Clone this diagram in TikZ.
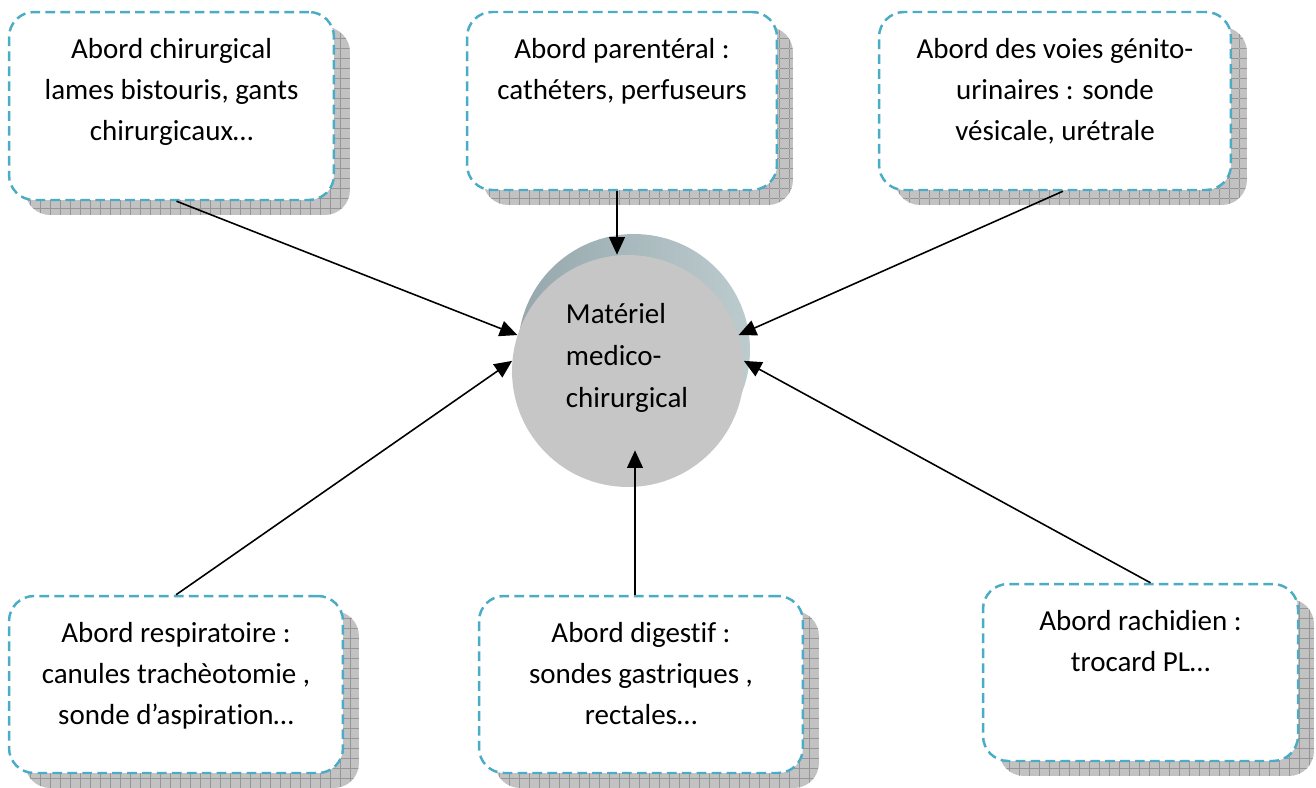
\documentclass[tikz,border=0pt]{standalone}
\usepackage{fontspec}
\setmainfont[Ligatures=NoCommon]{Carlito}
\usetikzlibrary{arrows.meta,positioning,calc,shadows,patterns}

\definecolor{dashblue}{RGB}{75,172,198}
\definecolor{shadowgray}{RGB}{194,194,194}
\definecolor{gridgray}{RGB}{150,150,150}
\definecolor{facegray}{RGB}{198,198,198}
\definecolor{cylL}{RGB}{150,168,173}
\definecolor{cylR}{RGB}{188,203,206}

\pgfdeclarepatternformonly{smallgrid}{\pgfqpoint{-0.5pt}{-0.5pt}}{\pgfqpoint{6.2pt}{6.2pt}}{\pgfqpoint{5.69pt}{5.69pt}}{%
  \pgfsetlinewidth{0.45pt}%
  \pgfpathmoveto{\pgfqpoint{0pt}{0pt}}\pgfpathlineto{\pgfqpoint{5.69pt}{0pt}}%
  \pgfpathmoveto{\pgfqpoint{0pt}{0pt}}\pgfpathlineto{\pgfqpoint{0pt}{5.69pt}}%
  \pgfusepath{stroke}}

% text set at the top of a box
\newcommand{\abtext}[3]{\parbox[c][#2][t]{#1}{\centering #3}}

\begin{document}
\begin{tikzpicture}[x=0.02cm,y=-0.02cm,
 arr/.style={-{Triangle[length=10pt,width=9pt]},line width=0.9pt},
 abord/.style={draw=dashblue,line width=1.4pt,dash pattern=on 5.5pt off 3pt,
   rounded corners=0.5cm,fill=white,inner sep=0pt,
   font=\fontsize{16.5}{23.5}\selectfont,
   drop shadow={shadow xshift=0.32cm,shadow yshift=-0.3cm,opacity=1,fill=shadowgray,
     postaction={pattern=smallgrid,pattern color=gridgray}}},
 disc/.style={circle,minimum size=4.64cm,inner sep=0pt,draw=none},
 mattxt/.style={align=left,inner sep=0pt,font=\fontsize{16.5}{24}\selectfont}]
\useasboundingbox (0,0) rectangle (1316,788);

% the centre
\node[disc,left color=cylL,right color=cylR] (matback) at (634,350) {};
\node[disc,fill=facegray] (mat) at (628,371) {};
\node[mattxt] (matlbl) at (627,358) {Matériel\\medico-\\chirurgical};

% the six boxes
\node[abord,minimum width=6.5cm,minimum height=3.76cm] (b1) at (171.5,106)
  {\abtext{6.3cm}{2.72cm}{Abord chirurgical\\lames bistouris, gants\\chirurgicaux…}};
\node[abord,minimum width=6.2cm,minimum height=3.56cm] (b2) at (622,101)
  {\abtext{6cm}{2.52cm}{Abord parentéral :\\cathéters, perfuseurs}};
\node[abord,minimum width=7.04cm,minimum height=3.56cm] (b3) at (1055,101)
  {\abtext{6.8cm}{2.52cm}{Abord des voies génito-\\urinaires : sonde\\vésicale, urétrale}};
\node[abord,minimum width=6.68cm,minimum height=3.54cm] (b4) at (176,684.5)
  {\abtext{6.5cm}{2.5cm}{Abord respiratoire :\\canules trachèotomie ,\\sonde d’aspiration…}};
\node[abord,minimum width=6.48cm,minimum height=3.54cm] (b5) at (641,684.5)
  {\abtext{6.3cm}{2.5cm}{Abord digestif :\\sondes gastriques ,\\rectales…}};
\node[abord,minimum width=6.3cm,minimum height=3.54cm] (b6) at (1140.5,672.5)
  {\abtext{6.1cm}{2.5cm}{Abord rachidien :\\trocard PL…}};

\draw[arr] ([xshift=0.1cm]b1.south) -- (mat.162);
\draw[arr] ([xshift=-0.1cm]b2.south) -- ([xshift=-0.22cm]mat.north);
\draw[arr] ([xshift=0.16cm]b3.south) -- (mat.18);
\draw[arr] (b4.north) -- (mat.175);
\draw[arr] ([xshift=-0.12cm]b5.north) -- ([xshift=0.14cm,yshift=0.74cm]mat.south);
\draw[arr] ([xshift=0.2cm]b6.north) -- (mat.5);
\end{tikzpicture}
\end{document}
